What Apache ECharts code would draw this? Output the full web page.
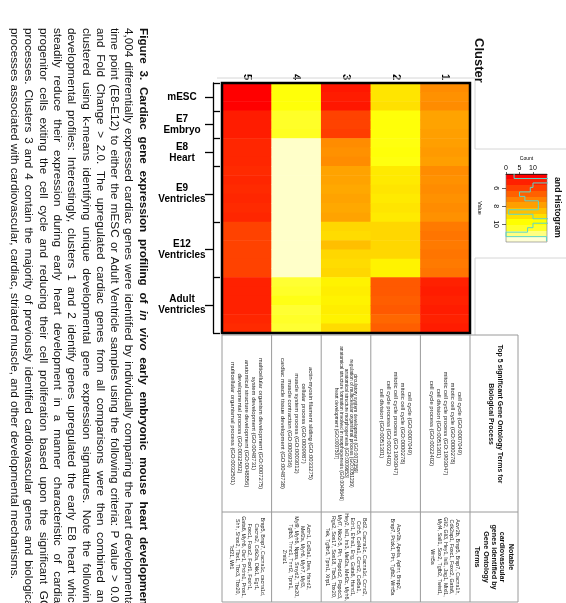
<!DOCTYPE html>
<html><head><meta charset="utf-8">
<script src="https://cdn.jsdelivr.net/npm/echarts@6/dist/echarts.min.js"></script>
<style>html,body{margin:0;padding:0;background:#fff}#c{width:566px;height:603px}</style>
</head><body><div id="c"></div>
<script>
// ---------------- DATA ----------------
const clusters = ['5', '4', '3', '2', '1'];
const sampleGroups = ['mESC', 'E7\nEmbryo', 'E8\nHeart', 'E9\nVentricles', 'E12\nVentricles', 'Adult\nVentricles'];
const groupSizes = [3, 3, 3, 6, 6, 6];
// expression value per row (mESC x3, E7 x3, E8 x3, E9 x6, E12 x6, Adult x6)
const cluster1 = [7.4,7.5,7.4, 7.9,7.9,7.8, 7.8,7.7,7.8, 7.4,7.5,7.4,7.5,7.4,7.5, 7.0,6.9,7.0,6.9,7.0,6.9, 5.1,5.0,5.1,5.0,5.1,5.0];
const cluster2 = [9.3,9.3,9.2, 10.0,10.0,10.0, 10.1,10.0,10.1, 9.4,9.4,9.3,9.4,9.3,9.4, 9.0,9.0,9.0,9.0,9.6,9.6, 6.3,6.3,6.4,6.3,6.6,6.4];
const cluster3 = [4.9,5.0,4.9, 5.8,5.8,5.7, 7.4,7.5,7.4, 7.9,7.9,8.0,7.9,8.0,7.9, 9.0,9.1,8.5,9.0,9.1,9.0, 9.6,9.5,9.6,9.5,9.6,9.1];
const cluster4 = [10.0,10.0,10.0, 10.5,10.5,10.4, 11.8,11.8,11.8, 11.8,11.8,11.8,11.8,11.8,11.8, 11.8,11.8,11.8,11.8,11.8,11.8, 10.6,10.5,10.2,10.6,10.5,10.6];
const cluster5 = [4.4,4.4,4.4, 5.0,5.0,5.0, 5.2,5.2,5.2, 5.3,5.2,5.3,5.2,5.3,5.2, 5.8,5.8,5.8,5.8,5.8,5.8, 5.1,5.1,5.1,5.1,5.2,5.3];
const valueMin = 4.4, valueMax = 11.9;
// colour key histogram
const histBinEdges = [4.4,4.9,5.4,5.9,6.4,6.9,7.4,7.9,8.4,8.9,9.4,9.9,10.4,10.9,11.4,11.9];
const histCounts = [3,17,10,9,5,7,12,12,1,10,16,10,8,0,15];
const countTicks = [0, 5, 10];
const valueTicks = [6, 8, 10];
// table
const goTermsHeader = 'Top 5 significant Gene Ontology Terms for\nBiological Process';
const genesHeader = 'Notable\ncardiovascular\ngenes identified by\nGene Ontology\nTerms';
const goCluster1 = ['cell cycle (GO:0007049)','mitotic cell cycle (GO:0000278)','mitotic cell cycle process (GO:1903047)','cell division (GO:0051301)','cell cycle process (GO:0022402)'];
const goCluster2 = ['cell cycle (GO:0007049)','mitotic cell cycle (GO:0000278)','mitotic cell cycle process (GO:1903047)','cell cycle process (GO:0022402)','cell division (GO:0051301)'];
const goCluster3 = ['circulatory system development (GO:0072359)','regulation of multicellular organismal process (GO:0051239)','anatomical structure morphogenesis (GO:0009653)','anatomical structure formation involved in morphogenesis (GO:0048646)','heart development (GO:0007507)'];
const goCluster4 = ['actin-myosin filament sliding (GO:0033275)','cellular process (GO:0009987)','muscle system process (GO:0003012)','muscle contraction (GO:0006936)','cardiac muscle tissue development (GO:0048738)'];
const goCluster5 = ['multicellular organism development (GO:0007275)','system development (GO:0048731)','anatomical structure development (GO:0048856)','developmental process (GO:0032502)','multicellular organismal process (GO:0032501)'];
const genesCluster1 = ['Acvr2b, Bmp5, Bmp7, Cacna1h,','Cdk2ap1, Foxc1, Foxc2, Gata6,','Gli2, Gli3, Hey1, Isl1, Jag1, Mixl1,','Myl4, Sall1, Sox2, Tgfb2, Twist1,','Wnt5a'];
const genesCluster2 = ['Acvr2b, Apela, Aplnr, Bmp2,','Bmp7, Pdzk1, Ptn, Tgfb2, Wnt5a'];
const genesCluster3 = ['Bcl2, Cacna1c, Cacna1d, Ccnd2,','Cdh5, Col4a1, Ccnd2, Col5a1,','Edn1, Efna1, Eng, Gata6, Hand1,','Hey2, Isl1, Irx3, Mef2a, Mef2c, Myh6,','Myl7, Nkx2-5, Pln, Popdc2, Popdc3,','Rgs2, Sox17, Sox18, Tbx5, Tbx20,','Tek, Tgfbr3, Tpm1, Xirp1'];
const genesCluster4 = ['Actn1, Col3a1, Des, Hand2,','Mef2a, Myh6, Myh7, Myl3,','Myl9, Myh6, Nppa, Smyd2, Tbx20,','Tgfb3, Tnnc1, Tnnt2, Tpm1,','Zmiz1'];
const genesCluster5 = ['Bmp5, Bmp7, Cacna1c, cacna1d,','Cacna2, Cdk2a, Dkk1, Egr1,','Foxc1, Foxc2, Foxf1, Foxh1,','Gata6, Myh6, Osr1, Prdm1, Prox1,','Shh, Shox2, Tbx1, Tbx3, Tbx20,','Tcf21, Wt1'];
// caption
const captionTitleA = 'Figure 3. Cardiac gene expression profiling of';
const captionTitleItalic = 'in vivo';
const captionTitleB = 'early embryonic mouse heart development';
const captionBody = [
 '4,004 differentially expressed cardiac genes were identified by individually comparing the heart developmental',
 'time point (E8-E12) to either the mESC or Adult Ventricle samples using the following criteria: P value > 0.05',
 'and Fold Change > 2.0.  The upregulated cardiac genes from all comparisons were then combined and',
 'clustered using k-means identifying unique developmental gene expression signatures. Note the following',
 'developmental profiles: Interestingly, clusters 1 and 2 identify genes upregulated the early E8 heart which',
 'steadily reduce their expression during early heart development in a manner characteristic of cardiac',
 'progenitor cells exiting the cell cycle and reducing their cell proliferation based upon the significant GO',
 'processes.  Clusters 3 and 4 contain the majority of previously identified cardiovascular genes and biological',
 'processes associated with cardiovascular, cardiac, striated muscle, and other developmental mechanisms.'
];

// ---------------- LAYOUT / STYLE ----------------
const FONT = '"Liberation Sans", Arial, Helvetica, sans-serif';
const GRID = {left: 222, top: 83, width: 248, height: 250};
const KEY = {left: 506, top: 174, width: 41, height: 68};
const TABLE = {top: 335, mid: 512, bottom: 602, right: 518};
const heatColors = ['#FF0000','#FF2000','#FF4000','#FF6000','#FF8000','#FF9F00','#FFBF00','#FFDF00','#FFFF00','#FFFF2A','#FFFF80','#FFFFD5'];
const ROT = -Math.PI / 2;
const CAP = {x0: 143, dx: 14.3, y0: 28, yEnd: 609, size: 11.7};

const byCluster = {'1': cluster1, '2': cluster2, '3': cluster3, '4': cluster4, '5': cluster5};
const goByCluster = {'1': goCluster1, '2': goCluster2, '3': goCluster3, '4': goCluster4, '5': goCluster5};
const genesByCluster = {'1': genesCluster1, '2': genesCluster2, '3': genesCluster3, '4': genesCluster4, '5': genesCluster5};

const nRows = groupSizes.reduce((a, b) => a + b, 0);
const rowNames = [];
sampleGroups.forEach((g, gi) => { for (let k = 0; k < groupSizes[gi]; k++) rowNames.push(g.replace('\n', ' ') + ' ' + (k + 1)); });
const heatData = [];
clusters.forEach((c, ci) => byCluster[c].forEach((v, ri) => heatData.push([ci, ri, v])));

const groupBounds = [0]; groupSizes.forEach(s => groupBounds.push(groupBounds[groupBounds.length - 1] + s));
const groupMids = sampleGroups.map((g, i) => (groupBounds[i] + groupBounds[i + 1]) / 2);

const histLine = [];
histCounts.forEach((c, i) => { histLine.push([c, histBinEdges[i]]); histLine.push([c, histBinEdges[i + 1]]); });

const keyStops = [];
heatColors.forEach((col, i) => { keyStops.push({offset: i / heatColors.length, color: col}); keyStops.push({offset: (i + 1) / heatColors.length, color: col}); });

// ---------------- GRAPHICS ----------------
const graphics = [];
const line = (x1, y1, x2, y2, color, w, z) => graphics.push({type: 'line', shape: {x1, y1, x2, y2}, style: {stroke: color, lineWidth: w}, z: z || 5, silent: true});
const rtext = (x, y, text, font, align, lineHeight, fill) => graphics.push({
  type: 'text', x, y, rotation: ROT, z: 20, silent: true,
  style: {text, font, fill: fill || '#111', align, textAlign: align, verticalAlign: 'middle', textVerticalAlign: 'middle', lineHeight: lineHeight || undefined}
});

// heatmap frame
graphics.push({type: 'rect', shape: {x: GRID.left, y: GRID.top, width: GRID.width, height: GRID.height}, style: {fill: 'none', stroke: '#000', lineWidth: 2.5}, z: 30, silent: true});

// faint panel borders
const PANEL = '#d6d6d6';
line(217, 78, 475, 78, PANEL, 1);
line(475, 78, 475, 149, PANEL, 1);
line(475, 149, 566, 149, PANEL, 1);
line(475, 258, 566, 258, PANEL, 1);
line(475, 258, 475, 335, PANEL, 1);

// table
const cellW = GRID.width / clusters.length;
const TL = '#9a9a9a';
for (let k = 0; k <= clusters.length; k++) line(GRID.left + k * cellW, TABLE.top, GRID.left + k * cellW, TABLE.bottom, TL, 1);
line(TABLE.right, TABLE.top, TABLE.right, TABLE.bottom, TL, 1);
[TABLE.top, TABLE.mid, TABLE.bottom].forEach(y => line(GRID.left, y, TABLE.right, y, TL, 1));

clusters.forEach((c, ci) => {
  const cx = GRID.left + (ci + 0.5) * cellW;
  const small = c === '3';
  rtext(cx, (TABLE.top + TABLE.mid) / 2, goByCluster[c].join('\n'), (small ? '4.8px ' : '5.9px ') + FONT, 'center', small ? 4.9 : 7, '#222');
  rtext(cx, (TABLE.mid + TABLE.bottom) / 2, genesByCluster[c].join('\n'), '5.3px ' + FONT, 'center', 6.2, '#222');
});
const hx = (GRID.left + GRID.width + TABLE.right) / 2;
rtext(hx + 1, 414, goTermsHeader, 'bold 6.9px ' + FONT, 'center', 9);
rtext(hx, 557, genesHeader, 'bold 7.2px ' + FONT, 'center', 8.3);

// titles
rtext(479, 38, 'Cluster', 'bold 13px ' + FONT, 'left');
rtext(557, 177, 'and Histogram', 'bold 8.7px ' + FONT, 'left');

// caption (justified lines, word by word)
const mctx = document.createElement('canvas').getContext('2d');
const measure = (t, f) => { mctx.font = f; return mctx.measureText(t).width; };
const capFont = CAP.size + 'px ' + FONT;
const capBold = 'bold ' + CAP.size + 'px ' + FONT;
const capBoldIt = 'italic bold ' + CAP.size + 'px ' + FONT;
function layoutLine(words, x, justify) {
  // words: [{t, f}]
  const widths = words.map(w => measure(w.t, w.f));
  const total = widths.reduce((a, b) => a + b, 0);
  const natGap = measure(' ', words[0].f);
  const gap = justify && words.length > 1 ? (CAP.yEnd - CAP.y0 - total) / (words.length - 1) : natGap;
  let y = CAP.y0;
  words.forEach((w, i) => { rtext(x, y, w.t, w.f, 'left'); y += widths[i] + gap; });
}
const titleWords = captionTitleA.split(/\s+/).map(t => ({t, f: capBold}))
  .concat(captionTitleItalic.split(/\s+/).map(t => ({t, f: capBoldIt})))
  .concat(captionTitleB.split(/\s+/).map(t => ({t, f: capBold})));
layoutLine(titleWords, CAP.x0, true);
captionBody.forEach((ln, i) => layoutLine(ln.split(/\s+/).map(t => ({t, f: capFont})), CAP.x0 - (i + 1) * CAP.dx, i < captionBody.length - 1));

// ---------------- CHART ----------------
const chart = echarts.init(document.getElementById('c'), null, {renderer: 'canvas'});
chart.setOption({
  backgroundColor: '#fff',
  animation: false,
  grid: [
    {left: GRID.left, top: GRID.top, width: GRID.width, height: GRID.height, containLabel: false},
    {left: KEY.left, top: KEY.top, width: KEY.width, height: KEY.height, show: true,
     backgroundColor: {type: 'linear', x: 0, y: 0, x2: 0, y2: 1, colorStops: keyStops},
     borderColor: '#777', borderWidth: 0.6}
  ],
  xAxis: [
    {type: 'category', gridIndex: 0, data: clusters, position: 'top',
     axisLine: {show: false}, axisTick: {show: false}, splitLine: {show: false},
     axisLabel: {rotate: -90, margin: 3, fontWeight: 'bold', fontSize: 11, color: '#000', fontFamily: FONT}},
    {type: 'value', gridIndex: 1, position: 'top', min: 0, max: 15.2,
     axisLine: {show: true, lineStyle: {color: '#000', width: 0.6}},
     axisTick: {show: true, customValues: countTicks, length: 2, lineStyle: {color: '#000', width: 0.6}},
     axisLabel: {customValues: countTicks, fontSize: 7, margin: 2, color: '#000', fontFamily: FONT},
     splitLine: {show: false},
     name: 'Count', nameLocation: 'middle', nameGap: 13, nameTextStyle: {fontSize: 5, color: '#000', fontFamily: FONT}}
  ],
  yAxis: [
    {type: 'category', gridIndex: 0, data: rowNames, inverse: true, show: false},
    {type: 'value', gridIndex: 0, min: 0, max: nRows, inverse: true, position: 'left', offset: 9,
     axisLine: {show: true, lineStyle: {color: '#000', width: 1.3}},
     axisTick: {show: true, customValues: groupMids, length: 8, lineStyle: {color: '#000', width: 1.3}},
     axisLabel: {customValues: groupMids, margin: 31, align: 'center', fontWeight: 'bold', fontSize: 10, lineHeight: 11, color: '#000', fontFamily: FONT,
       formatter: v => { const i = groupMids.indexOf(v); return i >= 0 ? sampleGroups[i] : ''; }},
     splitLine: {show: false}},
    {type: 'value', gridIndex: 0, min: 0, max: nRows, inverse: true, position: 'left', offset: 9,
     axisLine: {show: false},
     axisTick: {show: true, inside: true, customValues: groupBounds, length: 7, lineStyle: {color: '#000', width: 1.3}},
     axisLabel: {show: false}, splitLine: {show: false}},
    {type: 'value', gridIndex: 1, min: 4.4, max: 12.0, inverse: true, position: 'left',
     axisLine: {show: false},
     axisTick: {show: true, customValues: valueTicks, length: 4, lineStyle: {color: '#000', width: 0.6}},
     axisLabel: {customValues: valueTicks, rotate: -90, fontSize: 7, margin: 7, color: '#000', fontFamily: FONT},
     splitLine: {show: false},
     name: 'Value', nameLocation: 'middle', nameRotate: -90, nameGap: 23, nameTextStyle: {fontSize: 5.5, color: '#000', fontFamily: FONT}}
  ],
  visualMap: {type: 'continuous', show: false, seriesIndex: 0, min: valueMin, max: valueMax, inRange: {color: heatColors}},
  series: [
    {type: 'heatmap', xAxisIndex: 0, yAxisIndex: 0, data: heatData, itemStyle: {borderWidth: 0}, emphasis: {disabled: true}},
    {type: 'line', xAxisIndex: 1, yAxisIndex: 3, data: histLine, showSymbol: false, symbol: 'none', clip: false,
     lineStyle: {color: '#5CD6C8', width: 1}, silent: true}
  ],
  graphic: graphics
});
</script></body></html>
